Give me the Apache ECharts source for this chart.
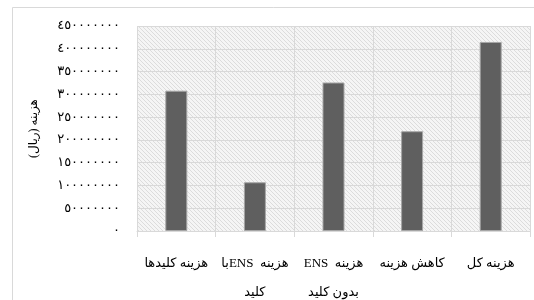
<!DOCTYPE html>
<html>
<head>
<meta charset="utf-8">
<script src="https://cdn.jsdelivr.net/npm/echarts@6/dist/echarts.min.js"></script>
<style>
  html, body { margin: 0; padding: 0; background: #fff; }
  #chart { width: 534px; height: 300px; }
</style>
</head>
<body>
<div id="chart"></div>
<script>
// دسته‌ها و مقادیر (ریال)
const categories = ['هزینه کلیدها', '\u202Bهزینه  ENSبا\u202C\nکلید', '\u202Bهزینه  ENS\u202C\nبدون کلید', 'کاهش هزینه', 'هزینه کل']
const costValues = [308000000, 107000000, 326000000, 219000000, 415000000]
const yMin = 0
const yMax = 450000000
const yStep = 50000000
const yName = 'هزینه (ریال)\u200F'

const faDigits = '٠١٢٣٤٥٦٧٨٩'
const toFa = (v) => String(v).replace(/\d/g, (d) => faDigits[d])

// hatch pattern for plot background
const makeHatch = () => {
    const c = document.createElement('canvas')
    c.width = 4
    c.height = 4
    const ctx = c.getContext('2d')
    ctx.fillStyle = '#f5f5f5'
    ctx.fillRect(0, 0, 4, 4)
    ctx.fillStyle = '#dcdcdc'
    for (let i = 0; i < 4; i++) ctx.fillRect(i, i, 1, 1)
    return c
}

const font = '"Liberation Serif", "DejaVu Sans", serif'
const lineColor = '#d9d9d9'

const myChart = echarts.init(document.getElementById('chart'))
const option = {
    animation: false,
    backgroundColor: '#fff',
    graphic: [{
        type: 'rect',
        shape: { x: 12.5, y: 7.5, width: 600, height: 400 },
        style: { fill: 'none', stroke: lineColor, lineWidth: 1 },
        silent: true
    }],
    grid: {
        left: 137,
        top: 26,
        right: 4,
        bottom: 69,
        outerBoundsMode: 'none',
        containLabel: false,
        show: true,
        borderWidth: 0,
        backgroundColor: { image: makeHatch(), repeat: 'repeat' }
    },
    xAxis: {
        type: 'category',
        data: categories,
        axisLine: { lineStyle: { color: lineColor } },
        axisTick: { show: true, length: 6, lineStyle: { color: lineColor } },
        splitLine: { show: true, lineStyle: { color: lineColor } },
        axisLabel: {
            interval: 0,
            margin: 18,
            color: '#000',
            fontSize: 13,
            lineHeight: 29,
            fontFamily: font
        }
    },
    yAxis: {
        type: 'value',
        min: yMin,
        max: yMax,
        interval: yStep,
        name: yName,
        nameLocation: 'middle',
        nameGap: 97,
        nameTextStyle: { color: '#000', fontSize: 12, fontFamily: font },
        axisLine: { show: false },
        axisTick: { show: false },
        splitLine: { lineStyle: { color: lineColor } },
        axisLabel: {
            margin: 17,
            color: '#000',
            fontSize: 13,
            fontFamily: font,
            formatter: (value) => toFa(value)
        }
    },
    series: [{
        type: 'bar',
        data: costValues,
        barWidth: 22,
        itemStyle: { color: '#5f5f5f', borderColor: '#a6a6a6', borderWidth: 1 }
    }]
}
myChart.setOption(option)
</script>
</body>
</html>
